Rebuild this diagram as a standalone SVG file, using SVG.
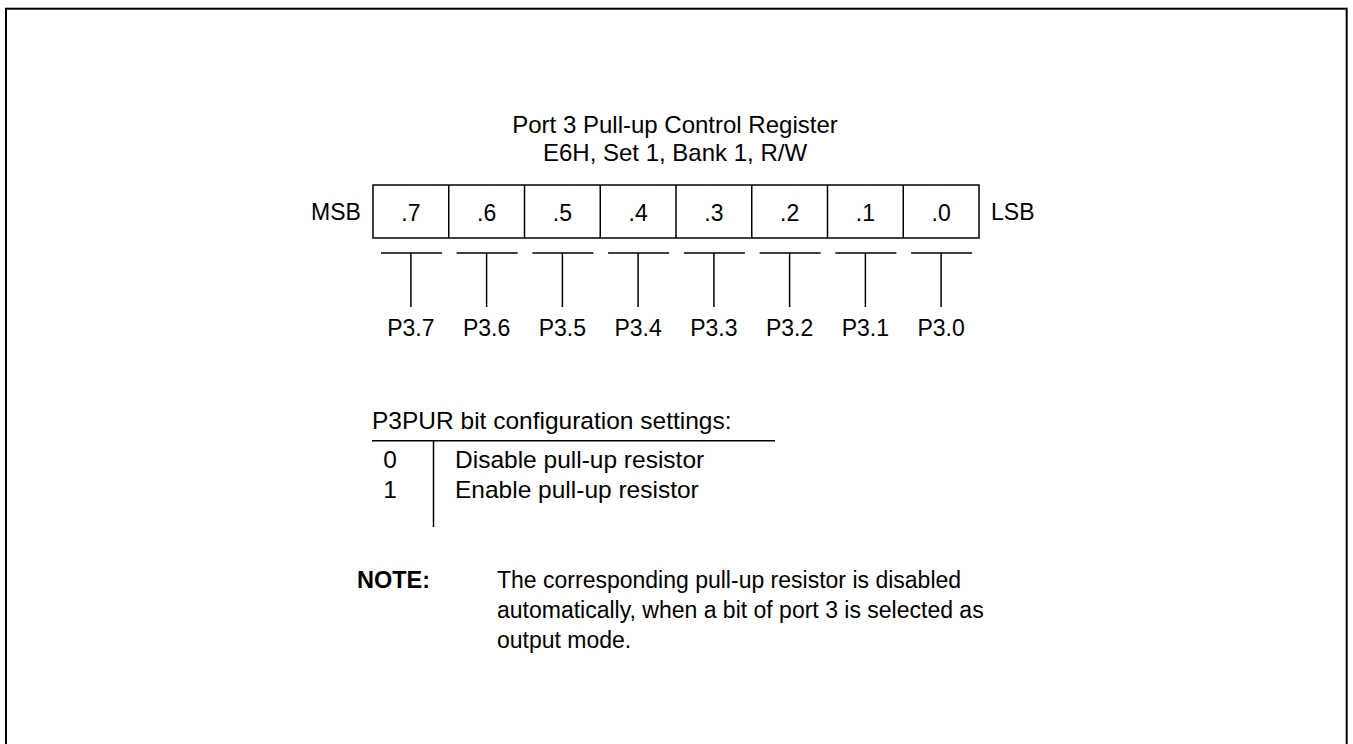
<svg xmlns="http://www.w3.org/2000/svg" width="1353" height="744" viewBox="0 0 1353 744">
<style>
text{font-family:"Liberation Sans",Arial,sans-serif;font-size:23px;fill:#000}
.c{text-anchor:middle}
.t{font-size:24px}
.s{font-size:24.5px}
.b{font-weight:bold}
.ln{stroke:#000;stroke-width:1.5;fill:none}
</style>
<rect x="0" y="0" width="1353" height="744" fill="#fff"/>
<rect x="6" y="8.7" width="1340.7" height="760" fill="none" stroke="#000" stroke-width="2"/>
<g id="title">
<text class="c t" x="675" y="133">Port 3 Pull-up Control Register</text>
<text class="c t" x="675" y="161">E6H, Set 1, Bank 1, R/W</text>
</g>
<g id="register">
<rect class="ln" x="373" y="185" width="606" height="53"/>
<path class="ln" d="M448.75 185V238M524.5 185V238M600.25 185V238M676 185V238M751.75 185V238M827.5 185V238M903.25 185V238"/>
<text x="311" y="220">MSB</text>
<text x="991" y="220">LSB</text>
<text class="c" x="410.9" y="221">.7</text>
<text class="c" x="486.6" y="221">.6</text>
<text class="c" x="562.4" y="221">.5</text>
<text class="c" x="638.1" y="221">.4</text>
<text class="c" x="713.9" y="221">.3</text>
<text class="c" x="789.6" y="221">.2</text>
<text class="c" x="865.4" y="221">.1</text>
<text class="c" x="941.1" y="221">.0</text>
</g>
<g id="connectors">
<path class="ln" d="M381 253H442M410.9 253V307M456.6 253H517.6M486.6 253V307M532.4 253H593.4M562.4 253V307M608.1 253H669.1M638.1 253V307M683.9 253H744.9M713.9 253V307M759.6 253H820.6M789.6 253V307M835.4 253H896.4M865.4 253V307M911.1 253H972.1M941.1 253V307"/>
</g>
<g id="bits">
<text class="c" x="410.9" y="336">P3.7</text>
<text class="c" x="486.6" y="336">P3.6</text>
<text class="c" x="562.4" y="336">P3.5</text>
<text class="c" x="638.1" y="336">P3.4</text>
<text class="c" x="713.9" y="336">P3.3</text>
<text class="c" x="789.6" y="336">P3.2</text>
<text class="c" x="865.4" y="336">P3.1</text>
<text class="c" x="941.1" y="336">P3.0</text>
</g>
<g id="settings">
<text class="s" x="372" y="429">P3PUR bit configuration settings:</text>
<path class="ln" d="M372 440.7H775M433.5 440.7V527"/>
<text class="c s" x="390" y="468">0</text>
<text class="s" x="455" y="468">Disable pull-up resistor</text>
<text class="c s" x="390" y="498">1</text>
<text class="s" x="455" y="498">Enable pull-up resistor</text>
</g>
<g id="note">
<text class="b" x="357" y="588" style="font-size:23.5px">NOTE:</text>
<text x="497" y="588">The corresponding pull-up resistor is disabled</text>
<text x="497" y="618">automatically, when a bit of port 3 is selected as</text>
<text x="497" y="648">output mode.</text>
</g>
</svg>
